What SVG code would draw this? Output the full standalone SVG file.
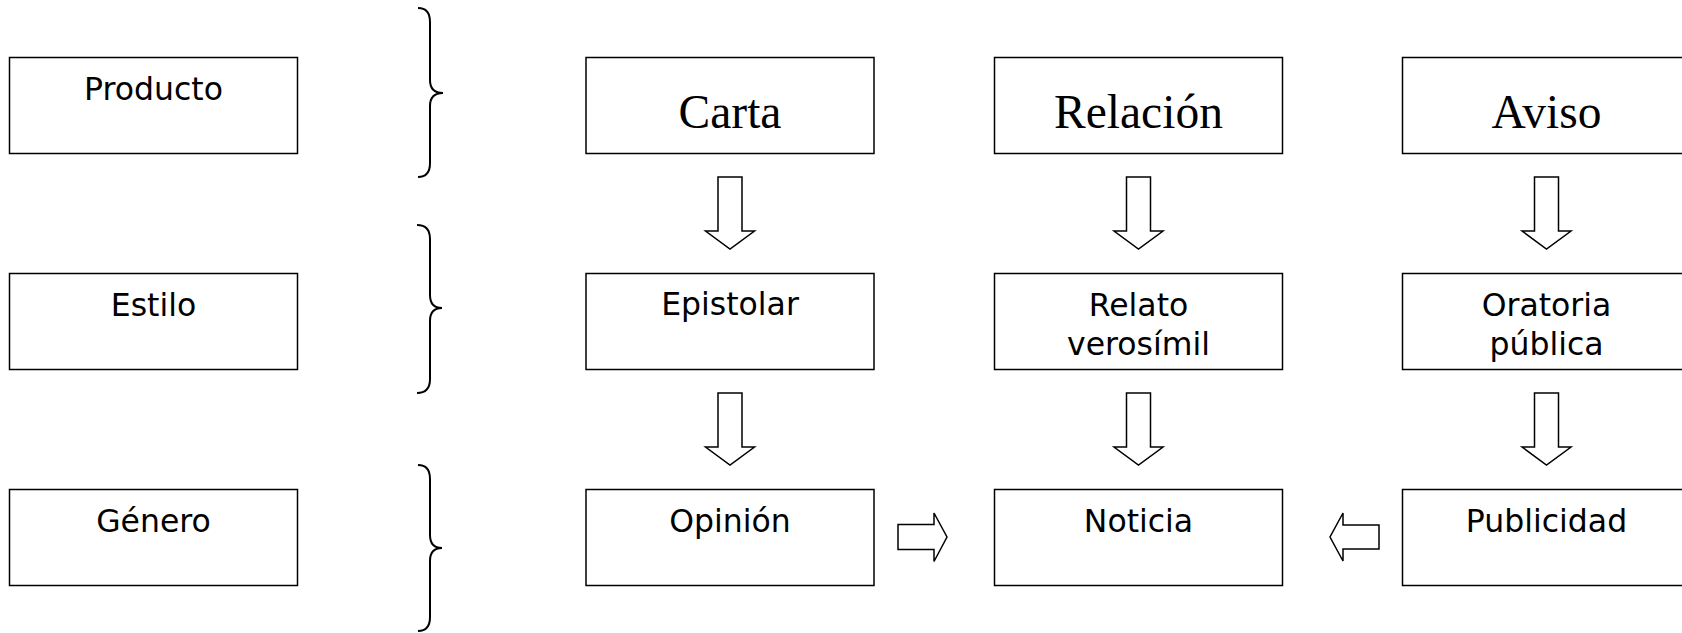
<svg xmlns="http://www.w3.org/2000/svg" width="1682" height="633" viewBox="0 0 1682 633">
<style>
.box{fill:#fff;stroke:#000;stroke-width:1.5}
.s{font-family:"DejaVu Sans",Verdana,sans-serif;font-size:31.5px;fill:#000;text-anchor:middle}
.t{font-family:"Liberation Serif","Times New Roman",serif;font-size:47.5px;fill:#000;text-anchor:middle}
.arr{fill:#fff;stroke:#000;stroke-width:1.5;stroke-linejoin:miter}
.brace{fill:none;stroke:#000;stroke-width:2}
</style>
<rect width="1682" height="633" fill="#fff"/>
<g id="producto"><rect class="box" x="9.5" y="57.5" width="288" height="96"/><text class="s" x="153.5" y="100">Producto</text></g>
<g id="estilo"><rect class="box" x="9.5" y="273.5" width="288" height="96"/><text class="s" x="153.5" y="316">Estilo</text></g>
<g id="genero"><rect class="box" x="9.5" y="489.5" width="288" height="96"/><text class="s" x="153.5" y="532">Género</text></g>
<g id="carta"><rect class="box" x="586" y="57.5" width="288" height="96"/><text class="t" x="730" y="128">Carta</text></g>
<g id="relacion"><rect class="box" x="994.5" y="57.5" width="288" height="96"/><text class="t" x="1138.5" y="128">Relación</text></g>
<g id="aviso"><rect class="box" x="1402.5" y="57.5" width="288" height="96"/><text class="t" x="1546.5" y="128">Aviso</text></g>
<g id="epistolar"><rect class="box" x="586" y="273.5" width="288" height="96"/><text class="s" x="730" y="315">Epistolar</text></g>
<g id="relato"><rect class="box" x="994.5" y="273.5" width="288" height="96"/><text class="s" x="1138.5" y="316">Relato</text><text class="s" x="1138.5" y="355">verosímil</text></g>
<g id="oratoria"><rect class="box" x="1402.5" y="273.5" width="288" height="96"/><text class="s" x="1546.5" y="316">Oratoria</text><text class="s" x="1546.5" y="355">pública</text></g>
<g id="opinion"><rect class="box" x="586" y="489.5" width="288" height="96"/><text class="s" x="730" y="532">Opinión</text></g>
<g id="noticia"><rect class="box" x="994.5" y="489.5" width="288" height="96"/><text class="s" x="1138.5" y="532">Noticia</text></g>
<g id="publicidad"><rect class="box" x="1402.5" y="489.5" width="288" height="96"/><text class="s" x="1546.5" y="532">Publicidad</text></g>
<g id="braces">
<path class="brace" d="M418,8 Q430,8 430,22 L430,80 Q430,93 443,93 Q430,93 430,106 L430,163 Q430,177 418,177"/>
<path class="brace" d="M417,225 Q430,225 430,239 L430,295 Q430,308 442,308 Q430,308 430,321 L430,379 Q430,393 417,393"/>
<path class="brace" d="M418,465 Q430,465 430,479 L430,535 Q430,548 442,548 Q430,548 430,561 L430,617 Q430,631 418,631"/>
</g>
<g id="connectors">
<path class="arr" d="M718,177 L742,177 L742,231 L754.5,231 L730,249 L705.5,231 L718,231 Z"/>
<path class="arr" d="M1126.5,177 L1150.5,177 L1150.5,231 L1163,231 L1138.5,249 L1114,231 L1126.5,231 Z"/>
<path class="arr" d="M1534.5,177 L1558.5,177 L1558.5,231 L1571,231 L1546.5,249 L1522,231 L1534.5,231 Z"/>
<path class="arr" d="M718,393 L742,393 L742,447 L754.5,447 L730,465 L705.5,447 L718,447 Z"/>
<path class="arr" d="M1126.5,393 L1150.5,393 L1150.5,447 L1163,447 L1138.5,465 L1114,447 L1126.5,447 Z"/>
<path class="arr" d="M1534.5,393 L1558.5,393 L1558.5,447 L1571,447 L1546.5,465 L1522,447 L1534.5,447 Z"/>
<path class="arr" d="M898,524.5 L934,524.5 L934,513 L947,537 L934,561.5 L934,549.5 L898,549.5 Z"/>
<path class="arr" d="M1379,525 L1343,525 L1343,513 L1330,537 L1343,561 L1343,549 L1379,549 Z"/>
</g>
</svg>
